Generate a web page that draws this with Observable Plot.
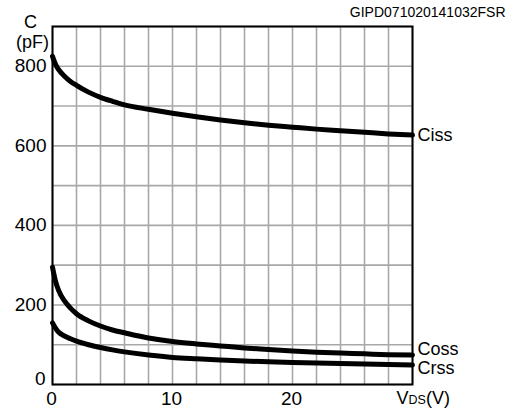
<!DOCTYPE html>
<html>
<head>
<meta charset="utf-8">
<script src="https://cdn.jsdelivr.net/npm/d3@7"></script>
<script src="https://cdn.jsdelivr.net/npm/@observablehq/plot@0.6"></script>
<style>
  html, body { margin: 0; padding: 0; background: #fff; }
  #chart svg { display: block; font-family: "Liberation Sans", Arial, sans-serif; }
</style>
</head>
<body>
<div id="chart"></div>
<script>
// Drain-source voltage (V)
const vds  = [0, 0.25, 0.5, 1, 1.5, 2, 3, 4, 5, 6, 8, 10, 12, 14, 16, 18, 20, 22, 24, 26, 28, 30];
// Capacitances (pF)
const ciss = [825, 805, 792, 775, 762, 752, 735, 722, 712, 703, 692, 682, 673, 665, 658, 652, 647, 642, 638, 634, 630, 627];
const coss = [295, 260, 237, 210, 192, 178, 160, 147, 137, 130, 117, 108, 102, 97, 92, 88, 84, 81, 79, 77, 75, 74];
const crss = [155, 142, 132, 122, 115, 109, 100, 93, 87, 82, 74, 68, 64.5, 61.5, 59, 57, 55.3, 53.8, 52.5, 51.3, 50.2, 49.2];

const seriesNames = ["Ciss", "Coss", "Crss"];
const labelDy = [0, -6, 3];
const xTicks = [0, 10, 20];
const yTicks = [200, 400, 600, 800];
const yZeroTick = [0];
const xGrid = d3.range(0, 31, 2);
const yGrid = d3.range(0, 901, 100);
const figureId = "GIPD071020141032FSR";

const seriesValues = [ciss, coss, crss];
const rows = [];
seriesNames.forEach((name, i) => {
  vds.forEach((v, j) => rows.push({series: name, vds: v, c: seriesValues[i][j]}));
});
const ends = seriesNames.map((name, i) => ({series: name, vds: vds[vds.length - 1], c: seriesValues[i][vds.length - 1], dy: labelDy[i]}));

const font = 19;
const chart = Plot.plot({
  width: 516,
  height: 411,
  marginLeft: 52,
  marginRight: 104,
  marginTop: 26,
  marginBottom: 27,
  style: {fontFamily: '"Liberation Sans", Arial, sans-serif', fontSize: "18px", background: "#fff", overflow: "visible"},
  x: {domain: [0, 30], axis: null},
  y: {domain: [0, 900], axis: null},
  marks: [
    Plot.ruleX(xGrid, {stroke: "#a8a8a8", strokeWidth: 1.6}),
    Plot.ruleY(yGrid, {stroke: "#a8a8a8", strokeWidth: 1.6}),
    Plot.frame({stroke: "#000", strokeWidth: 2}),
    Plot.line(rows, {x: "vds", y: "c", z: "series", stroke: "#000", strokeWidth: 5, curve: "monotone-x"}),
    // y tick labels
    Plot.text(yTicks, {x: () => 0, y: d => d, text: d => String(d), textAnchor: "end", dx: -6, fontSize: font, fill: "#000"}),
    Plot.text(yZeroTick, {x: () => 0, y: d => d, text: d => String(d), textAnchor: "end", dx: -7, dy: -6, fontSize: font, fill: "#000"}),
    // x tick labels
    Plot.text(xTicks, {x: d => d, y: () => 0, text: d => String(d), textAnchor: "middle", dx: -1, dy: 14, fontSize: font, fill: "#000"}),
    // curve labels
    ...ends.map(e => Plot.text([e], {x: "vds", y: "c", text: "series", textAnchor: "start", dx: 5, dy: e.dy, fontSize: 18, fill: "#000"})),
    // y-axis title
    Plot.text(["C"], {x: () => 0, y: () => 900, textAnchor: "middle", dx: -22, dy: -4, fontSize: 18, fill: "#000"}),
    Plot.text(["(pF)"], {x: () => 0, y: () => 900, textAnchor: "middle", dx: -20, dy: 16, fontSize: 18, fill: "#000"}),
    // x-axis title V_DS(V)
    Plot.text(["V"], {x: () => 30, y: () => 0, textAnchor: "start", dx: -16, dy: 14, fontSize: 18, fill: "#000"}),
    Plot.text(["DS"], {x: () => 30, y: () => 0, textAnchor: "start", dx: -4, dy: 15.8, fontSize: 12.5, fill: "#000"}),
    Plot.text(["(V)"], {x: () => 30, y: () => 0, textAnchor: "start", dx: 13.5, dy: 14, fontSize: 18, fill: "#000"}),
    // figure id
    Plot.text([figureId], {x: () => 30, y: () => 900, textAnchor: "end", dx: 93, dy: -14, fontSize: 14, fill: "#000"})
  ]
});
document.getElementById("chart").appendChild(chart);
</script>
</body>
</html>
